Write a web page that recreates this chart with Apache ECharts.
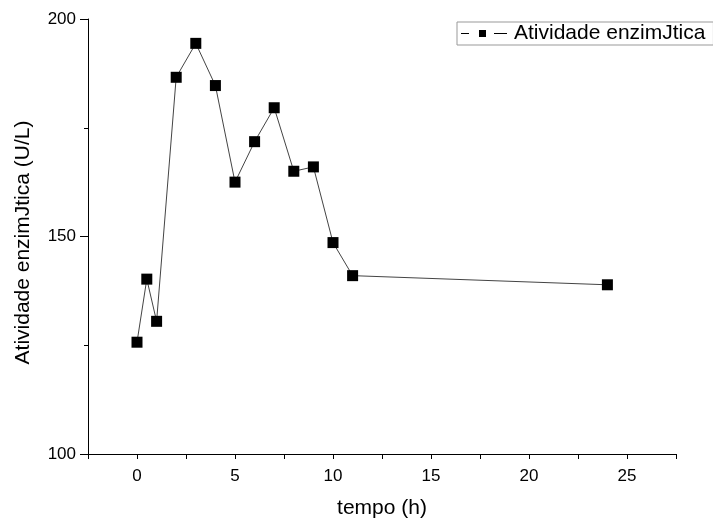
<!DOCTYPE html>
<html>
<head>
<meta charset="utf-8">
<script src="https://cdn.jsdelivr.net/npm/echarts@6/dist/echarts.min.js"></script>
<style>
  html, body { margin: 0; padding: 0; background: #fff; }
  #chart { width: 713px; height: 525px; }
</style>
</head>
<body>
<div id="chart"></div>
<script>
// Enzyme activity over time
const tempoHoras = [0, 0.5, 1, 2, 3, 4, 5, 6, 7, 8, 9, 10, 11, 24];
const atividade = [125.7, 140.2, 130.5, 186.6, 194.4, 184.7, 162.5, 171.8, 179.6, 165.0, 166.0, 148.6, 141.0, 138.9];
const serieNome = 'Atividade enzimJtica';
const eixoX = 'tempo (h)';
const eixoY = 'Atividade enzimJtica (U/L)';

const pontos = tempoHoras.map((t, i) => [t, atividade[i]]);
const fonte = 'Liberation Sans, Arial, sans-serif';

// legend key: short line, square marker, short line
const iconeLegenda = 'path://M0 3H8V4H0Z M18 0H25V7H18Z M33 3H46V4H33Z';

const chart = echarts.init(document.getElementById('chart'), null, { renderer: 'canvas' });
chart.setOption({
  animation: false,
  backgroundColor: '#fff',
  textStyle: { fontFamily: fonte },
  grid: { left: 88, right: 37, top: 19, bottom: 71, containLabel: false },
  legend: {
    left: 457, top: 22,
    padding: [1, 8, 1, 4],
    borderColor: '#999', borderWidth: 1,
    itemWidth: 46, itemHeight: 7, itemGap: 8,
    icon: iconeLegenda,
    textStyle: { fontFamily: fonte, fontSize: 21, color: '#000', padding: [0, 0, 0, 2] },
    data: [serieNome]
  },
  xAxis: {
    type: 'value',
    min: -2.5, max: 27.5, interval: 2.5,
    name: eixoX, nameLocation: 'middle', nameGap: 44,
    nameTextStyle: { fontFamily: fonte, fontSize: 21, color: '#000' },
    axisLine: { show: true, onZero: false, lineStyle: { color: '#000', width: 1 } },
    axisTick: { show: true, inside: false, length: 5, lineStyle: { color: '#000' } },
    axisLabel: {
      fontFamily: fonte, fontSize: 17, color: '#000', margin: 14,
      formatter: v => (Math.abs(v % 5) < 1e-9 ? String(v) : '')
    },
    splitLine: { show: false }
  },
  yAxis: {
    type: 'value',
    min: 100, max: 200, interval: 50,
    name: eixoY, nameLocation: 'middle', nameGap: 54,
    nameTextStyle: { fontFamily: fonte, fontSize: 21, color: '#000', padding: [0, 12, 0, 0] },
    axisLine: { show: true, onZero: false, lineStyle: { color: '#000', width: 1 } },
    axisTick: { show: true, inside: false, length: 8, lineStyle: { color: '#000' } },
    minorTick: { show: true, splitNumber: 2, length: 4, lineStyle: { color: '#000' } },
    axisLabel: { fontFamily: fonte, fontSize: 17, color: '#000', margin: 12 },
    splitLine: { show: false }
  },
  series: [{
    name: serieNome,
    type: 'line',
    data: pontos,
    symbol: 'rect',
    symbolSize: 11,
    itemStyle: { color: '#000' },
    lineStyle: { color: '#444', width: 1 }
  }]
});
</script>
</body>
</html>
